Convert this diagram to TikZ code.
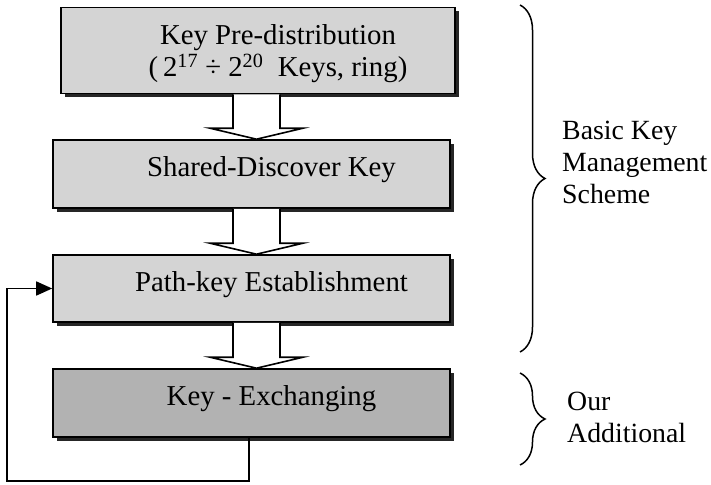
\documentclass[tikz,border=0pt]{standalone}
\usepackage{fontspec}
\setmainfont{Liberation Serif}
\usetikzlibrary{calc,decorations.pathreplacing,shadows,arrows.meta}

\begin{document}
\begin{tikzpicture}[x=1pt,y=-1pt,
  stage/.style={draw,line width=1.6pt,minimum width=397pt,minimum height=68pt,fill=black!17,
    drop shadow={shadow xshift=4pt,shadow yshift=-4pt,fill=black!85,opacity=1}},
  stagetext/.style={font=\fontsize{28.8}{32}\selectfont,align=center,xshift=20pt,yshift=4pt},
  flow/.style={draw,line width=1.6pt,fill=white,line join=miter},
  curly/.style={decorate,decoration={brace,amplitude=25pt},line width=1.5pt},
  side/.style={anchor=west,align=left,inner sep=0pt,font=\fontsize{27.8}{32}\selectfont}]
\useasboundingbox (0,0) rectangle (711,484);

% the four stages
\node (pre) at (258,50.5)[stage,minimum width=394pt,minimum height=86pt,
  label={[stagetext,yshift=-7pt]center:{Key Pre-distribution\\(\,2\textsuperscript{17} ÷ 2\textsuperscript{20}\ \ Keys, ring)}}]{};
\node (shared) at (251.5,174)[stage,label={[stagetext]center:{Shared-Discover Key}}]{};
\node (path) at (251.5,288.5)[stage,minimum height=67pt,label={[stagetext]center:{Path-key Establishment}}]{};
\node (exch) at (251.5,403)[stage,fill=black!30,label={[stagetext]center:{Key - Exchanging}}]{};

% block arrows between stages
\coordinate (ax) at (256.5,0);
\foreach \a/\b in {pre/shared,shared/path,path/exch}
  \draw[flow] ($(ax |- \a.south)+(-23.5,0)$) -- ($(ax |- \b.north)+(-23.5,-11)$) -- ++(-23,0)
    -- (ax |- \b.north) -- ($(ax |- \b.north)+(46.5,-11)$) -- ++(-23,0) -- ($(ax |- \a.south)+(23.5,0)$);

% feedback from key exchanging
\coordinate (back) at (7,481);
\draw[line width=1.6pt,-{Triangle[length=16pt,width=14pt]}] (exch.south -| 249,0) |- (back) |- (path.west);

% braces on the right
\draw[curly] (520,5) -- (520,352);
\draw[curly] (520,373) -- (520,465);
\node (basic) at (562,162)[side]{Basic Key\\Management\\Scheme};
\node (ours) at (567,417)[side]{Our\\Additional};
\end{tikzpicture}
\end{document}
